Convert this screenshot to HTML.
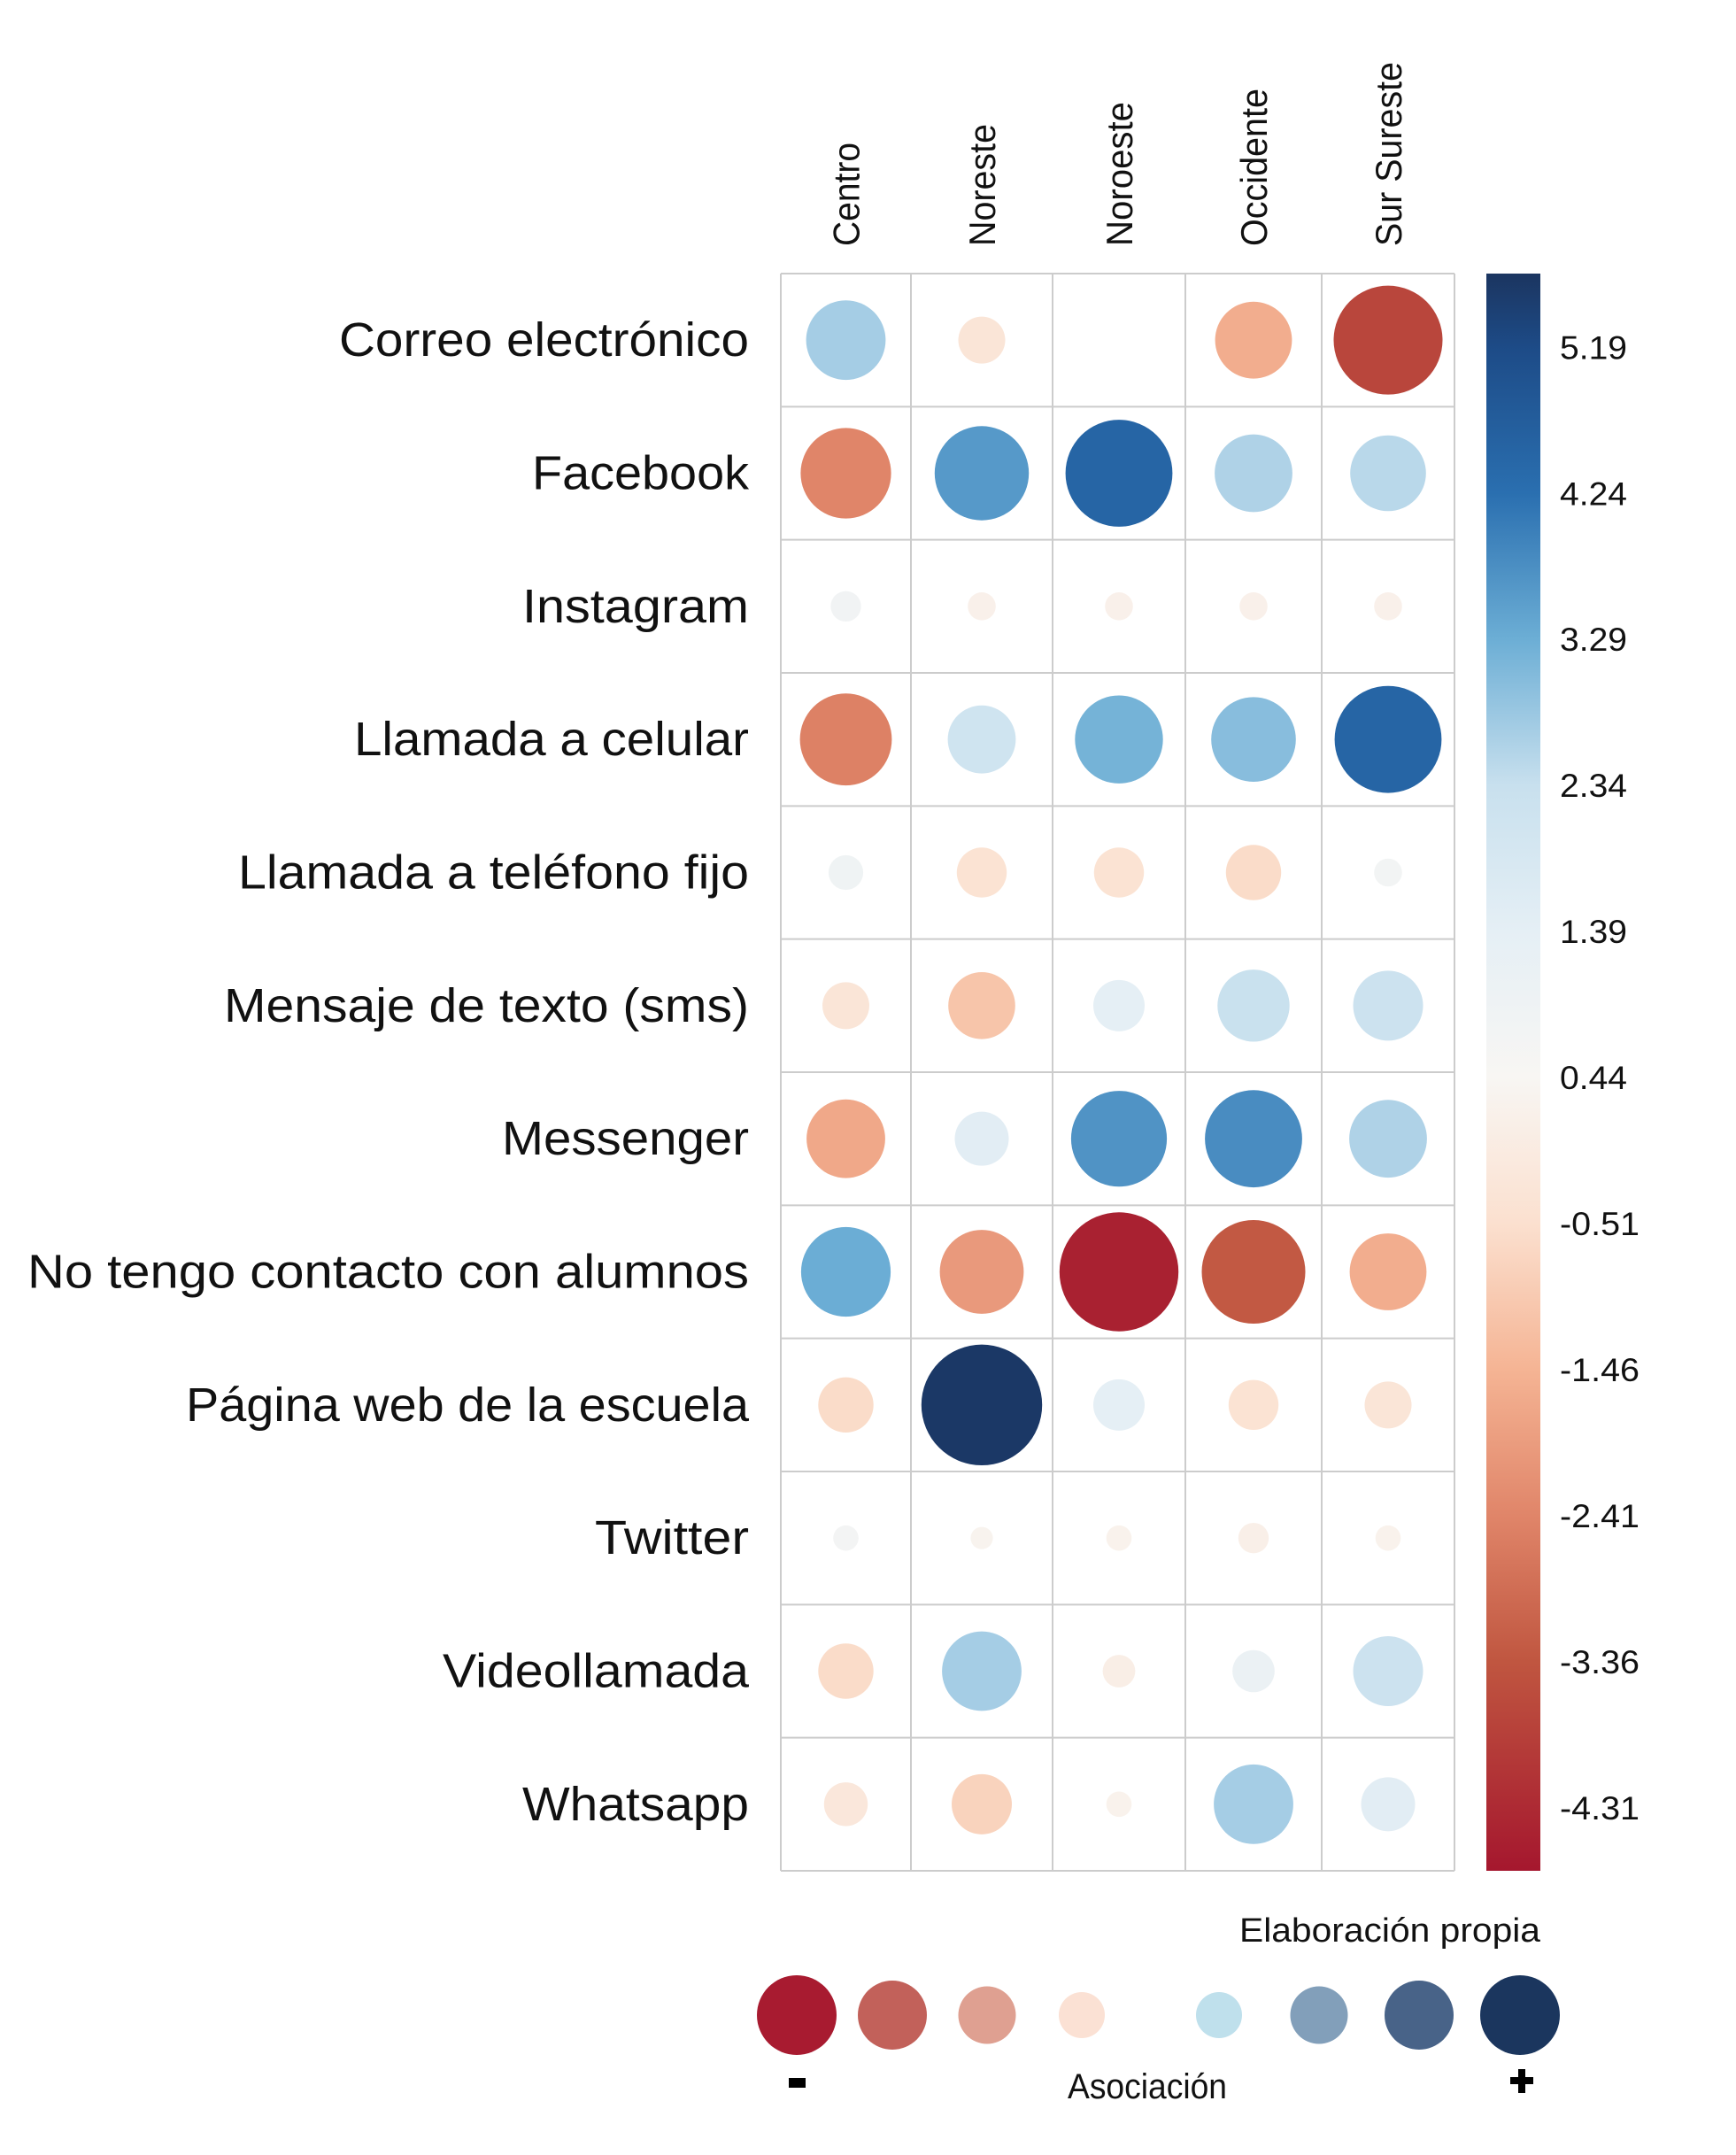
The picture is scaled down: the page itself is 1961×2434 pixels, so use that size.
<!DOCTYPE html>
<html><head><meta charset="utf-8"><style>
html,body{margin:0;padding:0;background:#fff;}
svg{display:block;}
text{font-family:"Liberation Sans",sans-serif;fill:#111;}
</style></head><body>
<svg id="chart" width="1961" height="2434" viewBox="0 0 1961 2434">
<defs>
<linearGradient id="cbar" x1="0" y1="1" x2="0" y2="0"></linearGradient>
</defs>
<g id="grid"></g>
<g id="cells"></g>
<g id="rowlabels"></g>
<g id="collabels"></g>
<rect x="1679" y="309" width="61" height="1804" fill="url(#cbar)"/>
<g id="cbticks"></g>
<text x="1740" y="2193" text-anchor="end" font-size="38" textLength="340" lengthAdjust="spacingAndGlyphs">Elaboración propia</text>
<g>
<circle cx="900" cy="2276" r="45" fill="#a81b30"/>
<circle cx="1008" cy="2276" r="39" fill="#c2615a"/>
<circle cx="1115" cy="2276" r="32.5" fill="#dfa091"/>
<circle cx="1222" cy="2276" r="26" fill="#fbe1d4"/>
<circle cx="1377" cy="2276" r="26" fill="#bfe0ec"/>
<circle cx="1490" cy="2276" r="32.5" fill="#829fba"/>
<circle cx="1603" cy="2276" r="39" fill="#486388"/>
<circle cx="1717" cy="2276" r="45" fill="#1b365e"/>
</g>
<rect x="891" y="2347" width="19" height="11" fill="#000"/>
<rect x="1706" y="2346" width="26" height="8" fill="#000"/>
<rect x="1715" y="2337" width="8" height="27" fill="#000"/>
<text x="1296" y="2370" text-anchor="middle" font-size="40" textLength="180" lengthAdjust="spacingAndGlyphs">Asociación</text>
</svg>
<script>
const rows = ["Correo electrónico","Facebook","Instagram","Llamada a celular","Llamada a teléfono fijo","Mensaje de texto (sms)","Messenger","No tengo contacto con alumnos","Página web de la escuela","Twitter","Videollamada","Whatsapp"];
const cols = ["Centro","Noreste","Noroeste","Occidente","Sur Sureste"];
const valCentro = [2.7,-2.4,0.8,-2.5,0.9,-0.3,-1.7,3.3,-0.6,0.7,-0.6,-0.2];
const valNoreste = [-0.3,3.6,0.2,2.1,-0.4,-1.1,1.5,-2.0,5.6,0.3,2.7,-0.8];
const valNoroeste = [0.475,4.5,0.2,3.2,-0.4,1.4,3.7,-4.5,1.4,0.25,0.1,0.25];
const valOccidente = [-1.6,2.6,0.2,3.0,-0.6,2.3,3.8,-3.3,-0.4,0.15,1.1,2.7];
const valSurSureste = [-3.7,2.5,0.2,4.5,0.75,2.2,2.6,-1.6,-0.3,0.25,2.2,1.5];
const cbTicks = [5.19,4.24,3.29,2.34,1.39,0.44,-0.51,-1.46,-2.41,-3.36,-4.31];
const rowLabelLen = [463,245,256,446,577,593,279,815,636,174,346,256];
const colLabelLen = [117,138,163,178,208];

const NS="http://www.w3.org/2000/svg";
const series=[valCentro,valNoreste,valNoroeste,valOccidente,valSurSureste];
const colX=[882,1029,1189,1339,1493,1643];
const gridTop=309, gridBot=2113, rowH=(gridBot-gridTop)/rows.length;
const vTop=5.67, vBot=-4.72, center=0.475;
function yScale(v){return gridTop+(vTop-v)/(vTop-vBot)*(gridBot-gridTop);}
const stops=[[-4.72,[165,23,46]],[-3.36,[192,86,64]],[-2.41,[224,133,105]],[-1.46,[245,180,148]],[-0.51,[251,224,207]],[0.44,[248,246,243]],[1.39,[229,239,245]],[2.34,[200,224,238]],[3.29,[108,174,213]],[4.24,[42,111,176]],[5.19,[29,75,135]],[5.67,[27,53,96]]];
function color(v){
  if(v<=stops[0][0])return 'rgb('+stops[0][1]+')';
  for(let i=1;i<stops.length;i++){
    if(v<=stops[i][0]){const a=stops[i-1],b=stops[i];const t=(v-a[0])/(b[0]-a[0]);
      return 'rgb('+a[1].map((c,k)=>Math.round(c+(b[1][k]-c)*t)).join(',')+')';}
  }
  return 'rgb('+stops[stops.length-1][1]+')';
}
function rScale(v){return 68*Math.sqrt(Math.abs(v-center)/5.1);}
function mk(tag,attrs,parent){const e=document.createElementNS(NS,tag);for(const k in attrs)e.setAttribute(k,attrs[k]);parent.appendChild(e);return e;}

const grad=document.getElementById('cbar');
stops.forEach(s=>{mk('stop',{offset:((s[0]-vBot)/(vTop-vBot)).toFixed(4),'stop-color':'rgb('+s[1]+')'},grad);});

const grid=document.getElementById('grid');
for(let i=0;i<=rows.length;i++){const y=gridTop+i*rowH;
  const l=mk('line',{x1:colX[0],x2:colX[5],y1:y,y2:y,stroke:'#cccccc','stroke-width':2},grid);
  
  }
for(let j=0;j<colX.length;j++){
  const l=mk('line',{x1:colX[j],x2:colX[j],y1:gridTop,y2:gridBot,stroke:'#cccccc','stroke-width':2},grid);
  
  }

const cells=document.getElementById('cells');
series.forEach((vals,j)=>{const cx=(colX[j]+colX[j+1])/2;
  vals.forEach((v,i)=>{const cy=gridTop+(i+0.5)*rowH;
    const c=mk('circle',{cx:cx,cy:cy,r:rScale(v).toFixed(1),fill:color(v)},cells);
    
    
  });
});

const rl=document.getElementById('rowlabels');
rows.forEach((r,i)=>{const t=mk('text',{x:846,y:gridTop+(i+0.5)*rowH+18,'text-anchor':'end','font-size':54,textLength:rowLabelLen[i],lengthAdjust:'spacingAndGlyphs'},rl);
  t.textContent=r;
  
  });

const cl=document.getElementById('collabels');
cols.forEach((c,j)=>{const x=(colX[j]+colX[j+1])/2+15;const y=278;
  const t=mk('text',{x:x,y:y,'font-size':42,transform:'rotate(-90 '+x+' '+y+')',textLength:colLabelLen[j],lengthAdjust:'spacingAndGlyphs'},cl);
  t.textContent=c;
  
  });

const cb=document.getElementById('cbticks');
cbTicks.forEach(v=>{const t=mk('text',{x:1762,y:yScale(v)+13,'font-size':37,textLength:(v<0?90:76),lengthAdjust:'spacingAndGlyphs'},cb);
  t.textContent=v.toFixed(2);
  
  });
</script>
</body></html>
